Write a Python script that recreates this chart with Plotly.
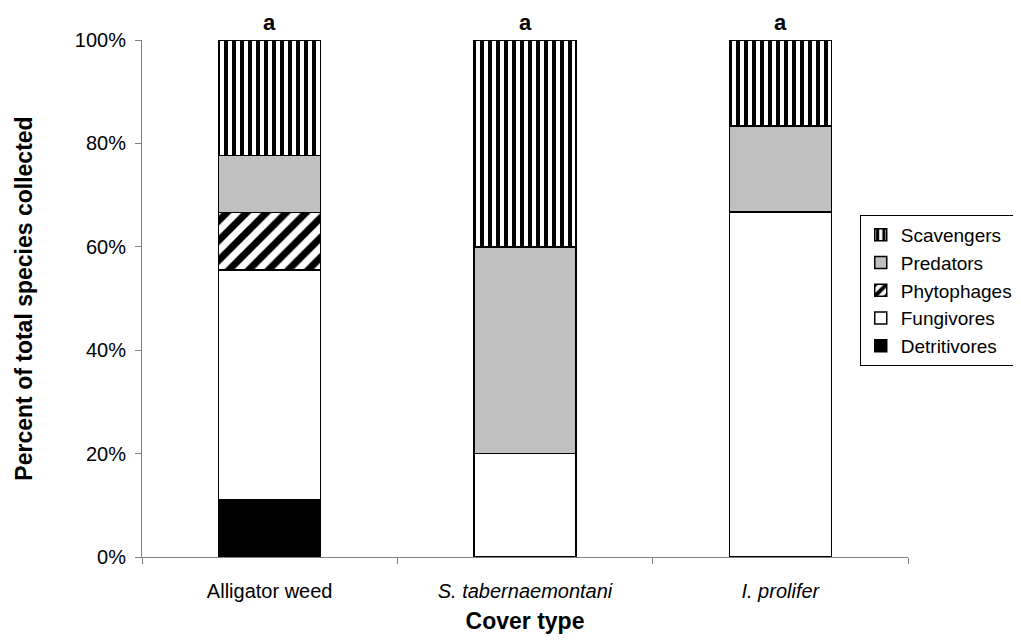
import plotly.graph_objects as go

categories = ["Alligator weed", "S. tabernaemontani", "I. prolifer"]
tick_labels = ["Alligator weed", "<i>S. tabernaemontani</i>", "<i>I. prolifer</i>"]
detritivores = [11.1, 0, 0]
fungivores = [44.4, 20.0, 66.7]
phytophages = [11.1, 0, 0]
predators = [11.1, 40.0, 16.7]
scavengers = [22.3, 40.0, 16.6]
letters = ["a", "a", "a"]

FONT = "Liberation Sans, Arial, sans-serif"

series = [
    ("Detritivores", detritivores, dict(color="black")),
    ("Fungivores", fungivores, dict(color="white")),
    ("Phytophages", phytophages, dict(color="white", pattern=dict(shape="/", fgcolor="black", bgcolor="white", fgopacity=1, size=14, solidity=0.5))),
    ("Predators", predators, dict(color="#C0C0C0")),
    ("Scavengers", scavengers, dict(color="white", pattern=dict(shape="|", fgcolor="black", bgcolor="white", fgopacity=1, size=8, solidity=0.5))),
]

fig = go.Figure()
n = len(series)
for i, (name, vals, mk) in enumerate(series):
    mk = dict(mk)
    mk["line"] = dict(color="black", width=1.5)
    fig.add_trace(go.Bar(name=name, x=categories, y=vals, marker=mk, width=0.4,
                         legendrank=n - i))

for c, t in zip(categories, letters):
    fig.add_annotation(x=c, y=1, xref="x", yref="paper", text="<b>%s</b>" % t,
                       showarrow=False, yanchor="bottom", yshift=3,
                       font=dict(size=22, color="black", family=FONT))

fig.update_layout(
    barmode="stack",
    width=1021, height=644,
    margin=dict(l=134, r=121, t=32, b=95, autoexpand=False),
    plot_bgcolor="white", paper_bgcolor="white",
    font=dict(family=FONT, size=20, color="black"),
    legend=dict(traceorder="normal", x=0.937, y=0.6615, xanchor="left", yanchor="top",
                bordercolor="black", borderwidth=1, font=dict(size=19),
                itemwidth=30),
)
fig.update_xaxes(
    type="category", tickson="boundaries", tickvals=categories, ticktext=tick_labels,
    ticks="outside", ticklen=6, tickcolor="#808080", showline=True, linecolor="#808080",
    linewidth=1, showgrid=False, ticklabelstandoff=16,
    title=dict(text="<b>Cover type</b>", font=dict(size=23), standoff=11),
)
fig.update_yaxes(
    range=[0, 100], tickvals=[0, 20, 40, 60, 80, 100],
    ticktext=["0%", "20%", "40%", "60%", "80%", "100%"],
    ticks="outside", ticklen=6, tickcolor="#808080", showline=True, linecolor="#808080",
    linewidth=1, showgrid=False, zeroline=False, ticklabelstandoff=5,
    title=dict(text="<b>Percent of total species collected</b>", font=dict(size=23), standoff=35),
)
fig.write_html("out.html")
